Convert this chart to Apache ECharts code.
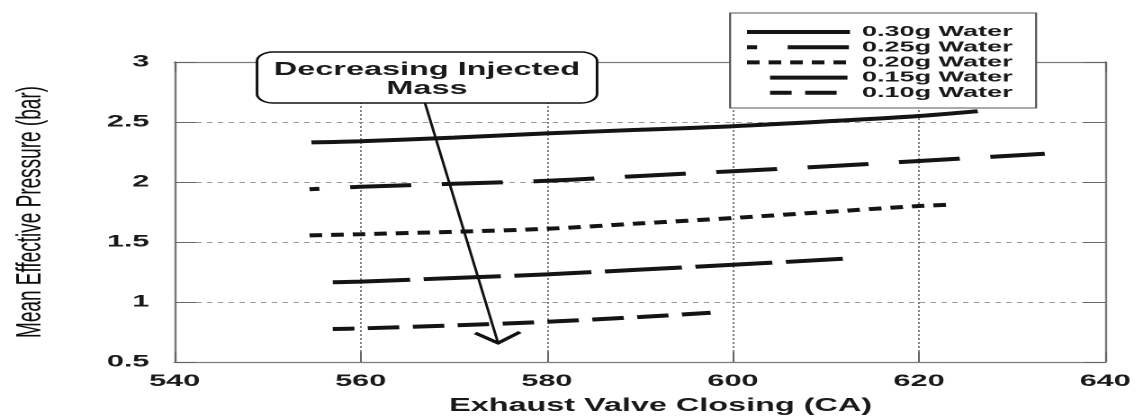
<!DOCTYPE html>
<html><head><meta charset="utf-8">
<script src="https://cdn.jsdelivr.net/npm/echarts@6/dist/echarts.min.js"></script>
<style>
html,body{margin:0;padding:0;background:#fff;overflow:hidden;width:1140px;height:420px}
#chart{width:633.33px;height:420px;transform:scaleX(1.8);transform-origin:0 0;}
</style>
</head><body><div id="chart"></div>
<script>
// ---- data ----
const xTicks = [540, 560, 580, 600, 620, 640];
const yTicks = [0.5, 1, 1.5, 2, 2.5, 3];
const seriesNames = ['0.30g Water', '0.25g Water', '0.20g Water', '0.15g Water', '0.10g Water'];

const water30X = [554.7, 560, 570, 580, 590, 600, 610, 620, 626.3];
const water30Y = [2.33, 2.34, 2.37, 2.405, 2.435, 2.465, 2.505, 2.55, 2.59];

const water25X = [554.5, 560, 570, 580, 590, 600, 610, 620, 633.5];
const water25Y = [1.94, 1.96, 1.985, 2.01, 2.05, 2.09, 2.13, 2.175, 2.235];

const water20X = [554.5, 560, 570, 580, 590, 600, 610, 620, 623.3];
const water20Y = [1.555, 1.565, 1.585, 1.61, 1.655, 1.70, 1.75, 1.80, 1.81];

const water15X = [557, 560, 570, 580, 590, 600, 611.8];
const water15Y = [1.165, 1.17, 1.20, 1.23, 1.27, 1.31, 1.36];

const water10X = [557, 560, 570, 580, 590, 597.6];
const water10Y = [0.775, 0.78, 0.805, 0.835, 0.875, 0.91];

const annotationText = 'Decreasing Injected\nMass';
const xTitle = 'Exhaust Valve Closing (CA)';
const yTitle = 'Mean Effective Pressure (bar)';

// ---- styles ----
const ink = '#141414';
const dashes = [null, [34, 17], [7, 5], [43, 7.5], [17.5, 7.5]];
const offsets = [0, 28.4, 0, 0, 5.5];
const xsAll = [water30X, water25X, water20X, water15X, water10X];
const ysAll = [water30Y, water25Y, water20Y, water15Y, water10Y];

const font = '"Liberation Sans", Arial, sans-serif';
const labelStyle = {fontFamily: font, fontWeight: 'bold', fontSize: 17, color: '#1a1a1a'};

const series = seriesNames.map((name, i) => ({
  name: name,
  type: 'line',
  symbol: 'none',
  smooth: 0.3,
  z: 3,
  data: xsAll[i].map((x, k) => [x, ysAll[i][k]]),
  lineStyle: {color: ink, width: 4, type: dashes[i] || 'solid', dashOffset: offsets[i], cap: 'butt'}
}));

const axisCol = '#7a7a7a';
const chart = echarts.init(document.getElementById('chart'), null, {devicePixelRatio: 2});

// legend drawing (in pixel space of the unscaled chart)
const legX1 = 472.2, legTextX = 478.9;
const legRows = [32, 47.2, 62.4, 77.6, 92.8];
const legStarts = [415, 415, 415, 427.8, 427.8];
const legendGraphics = [{
  type: 'rect', z: 50,
  shape: {x: 405.6, y: 13, width: 170, height: 95},
  style: {fill: '#fff', stroke: '#555', lineWidth: 1.1}
}];
seriesNames.forEach((name, i) => {
  legendGraphics.push({
    type: 'line', z: 51,
    shape: {x1: legStarts[i], y1: legRows[i], x2: legX1, y2: legRows[i]},
    style: {stroke: ink, lineWidth: 4, lineDash: dashes[i] || null, lineDashOffset: offsets[i]}
  });
  legendGraphics.push({
    type: 'text', z: 51,
    style: {text: name, x: legTextX, y: legRows[i], font: 'bold 15px ' + font, fill: '#1a1a1a',
            align: 'left', verticalAlign: 'middle'}
  });
});

const annotationGraphics = [
  {type: 'rect', z: 40, shape: {x: 142.8, y: 52, width: 188.9, height: 51, r: 9},
   style: {fill: '#fff', stroke: '#111', lineWidth: 1.5}},
  {type: 'text', z: 41, style: {text: annotationText, x: 237.2, y: 79.5, font: 'bold 18px ' + font,
   fill: '#1a1a1a', align: 'center', verticalAlign: 'middle', lineHeight: 19}},
  {type: 'line', z: 41, shape: {x1: 236.1, y1: 103, x2: 276.7, y2: 343},
   style: {stroke: '#111', lineWidth: 1.5}},
  {type: 'polyline', z: 41, shape: {points: [[264, 333], [276.7, 343], [288.9, 332]]},
   style: {stroke: '#111', lineWidth: 2.8, fill: null}}
];

chart.setOption({
  animation: false,
  backgroundColor: '#fff',
  grid: {left: 96, right: 19, top: 62, bottom: 57, show: false},
  xAxis: [{
    type: 'value', min: xTicks[0], max: xTicks[xTicks.length - 1], interval: 20,
    name: xTitle, nameLocation: 'middle', nameGap: 35,
    nameTextStyle: {fontFamily: font, fontWeight: 'bold', fontSize: 18, color: '#1a1a1a', padding: [0, 0, 0, 23]},
    axisLine: {show: true, lineStyle: {color: axisCol, width: 1.2}},
    axisTick: {show: true, inside: true, length: 10, lineStyle: {color: '#666', width: 1}},
    axisLabel: Object.assign({margin: 11}, labelStyle),
    splitLine: {show: true, lineStyle: {color: '#808080', width: 1, type: [2, 2]}}
  }, {
    type: 'value', position: 'top', min: xTicks[0], max: xTicks[xTicks.length - 1], interval: 20,
    axisLine: {show: true, lineStyle: {color: axisCol, width: 1.2}},
    axisTick: {show: true, inside: true, length: 10, lineStyle: {color: '#666', width: 1}},
    axisLabel: {show: false}, splitLine: {show: false}
  }],
  yAxis: [{
    type: 'value', min: yTicks[0], max: yTicks[yTicks.length - 1], interval: 0.5,
    name: yTitle, nameLocation: 'middle', nameGap: 70, nameRotate: 90,
    nameTextStyle: {fontFamily: font, fontWeight: 'normal', fontSize: 19, color: '#0d0d0d'},
    axisLine: {show: true, lineStyle: {color: axisCol, width: 1.2}},
    axisTick: {show: true, inside: true, length: 12, lineStyle: {color: '#666', width: 1}},
    axisLabel: Object.assign({margin: 14}, labelStyle),
    splitLine: {show: true, lineStyle: {color: '#9a9a9a', width: 1, type: [3, 3]}}
  }, {
    type: 'value', position: 'right', min: yTicks[0], max: yTicks[yTicks.length - 1], interval: 0.5,
    axisLine: {show: true, lineStyle: {color: axisCol, width: 1.2}},
    axisTick: {show: true, inside: true, length: 12, lineStyle: {color: '#666', width: 1}},
    axisLabel: {show: false}, splitLine: {show: false}
  }],
  series: series,
  graphic: {elements: legendGraphics.concat(annotationGraphics)}
});
</script>
</body></html>
